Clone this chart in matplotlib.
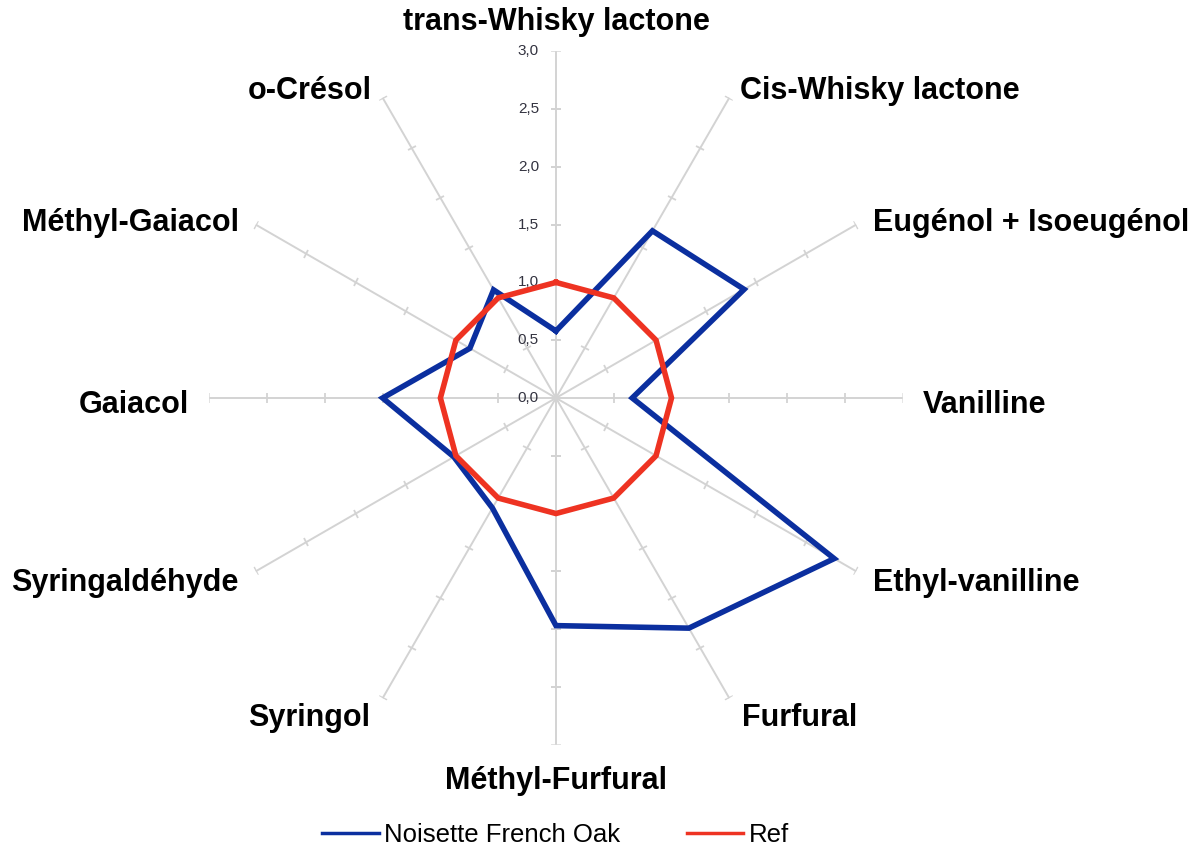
import numpy as np
import matplotlib
matplotlib.use("Agg")
import matplotlib.pyplot as plt
from matplotlib.markers import MarkerStyle
from matplotlib.transforms import Affine2D

categories = ["trans-Whisky lactone", "Cis-Whisky lactone", "Eugénol + Isoeugénol",
              "Vanilline", "Ethyl-vanilline", "Furfural", "Méthyl-Furfural",
              "Syringol", "Syringaldéhyde", "Gaiacol", "Méthyl-Gaiacol", "o-Crésol"]
noisette = [0.58, 1.67, 1.88, 0.66, 2.78, 2.30, 1.97, 1.10, 1.02, 1.50, 0.86, 1.08]
ref = [1.0] * 12
r_ticks = [0.0, 0.5, 1.0, 1.5, 2.0, 2.5, 3.0]
r_tick_labels = ["0,0", "0,5", "1,0", "1,5", "2,0", "2,5", "3,0"]
series_names = ["Noisette French Oak", "Ref"]

plt.rcParams['font.family'] = ['Liberation Sans', 'DejaVu Sans']

fig = plt.figure(figsize=(12, 8.52), dpi=100)
ax = fig.add_axes([0.1744, 0.126, 0.5778, 0.8138], projection='polar')
ax.set_theta_zero_location('N')
ax.set_theta_direction(-1)
ax.set_ylim(0, 3.0)
ax.grid(False)
ax.spines['polar'].set_visible(False)
ax.set_xticks([])
ax.set_yticks([])
ax.patch.set_visible(False)

n = len(categories)
angles = np.arange(n) * 2 * np.pi / n

spoke_color = '#d3d3d3'
for th in angles:
    ax.plot([th, th], [0, r_ticks[-1]], color=spoke_color, lw=1.4, zorder=1)
    m = MarkerStyle('_', transform=Affine2D().rotate_deg(-np.degrees(th)))
    ax.plot([th] * (len(r_ticks) - 1), r_ticks[1:], linestyle='none', marker=m,
            markersize=7, markeredgewidth=1.3, color=spoke_color, zorder=1)

# tick labels along top spoke
for r, lab in zip(r_ticks, r_tick_labels):
    ax.annotate(lab, xy=(0, r), xytext=(-17, 0), textcoords='offset pixels',
                ha='right', va='center', fontsize=11, color='#333340', zorder=2)

# series
closed = lambda v: list(v) + [v[0]]
ang_c = list(angles) + [angles[0]]
l1, = ax.plot(ang_c, closed(noisette), color='#0b2f9f', lw=4, zorder=3,
              solid_joinstyle='miter')
l2, = ax.plot(ang_c, closed(ref), color='#ee3322', lw=4, zorder=4,
              solid_joinstyle='miter')

# category labels
offsets = [(0, 29, 'center'), (11, 7, 'left'), (17, 2, 'left'), (20, -7, 'left'),
           (17, -12, 'left'), (13, -20, 'left'), (0, -36, 'center'),
           (-13, -20, 'right'), (-17, -12, 'right'), (-20, -7, 'right'),
           (-17, 2, 'right'), (-11, 7, 'right')]
for th, lab, (dx, dy, ha) in zip(angles, categories, offsets):
    ax.annotate(lab, xy=(th, r_ticks[-1]), xytext=(dx, dy), textcoords='offset pixels',
                ha=ha, va='center', fontsize=22, fontweight='bold', color='black',
                annotation_clip=False)

fig.legend([l1, l2], series_names, loc='center', bbox_to_anchor=(0.463, 0.02),
           ncol=2, frameon=False, fontsize=18.5, handlelength=2.2,
           handletextpad=0.2, columnspacing=2.6, borderaxespad=0)
for h in fig.legends[0].get_lines():
    h.set_linewidth(2.5)

fig.savefig('out.png', dpi=100)
